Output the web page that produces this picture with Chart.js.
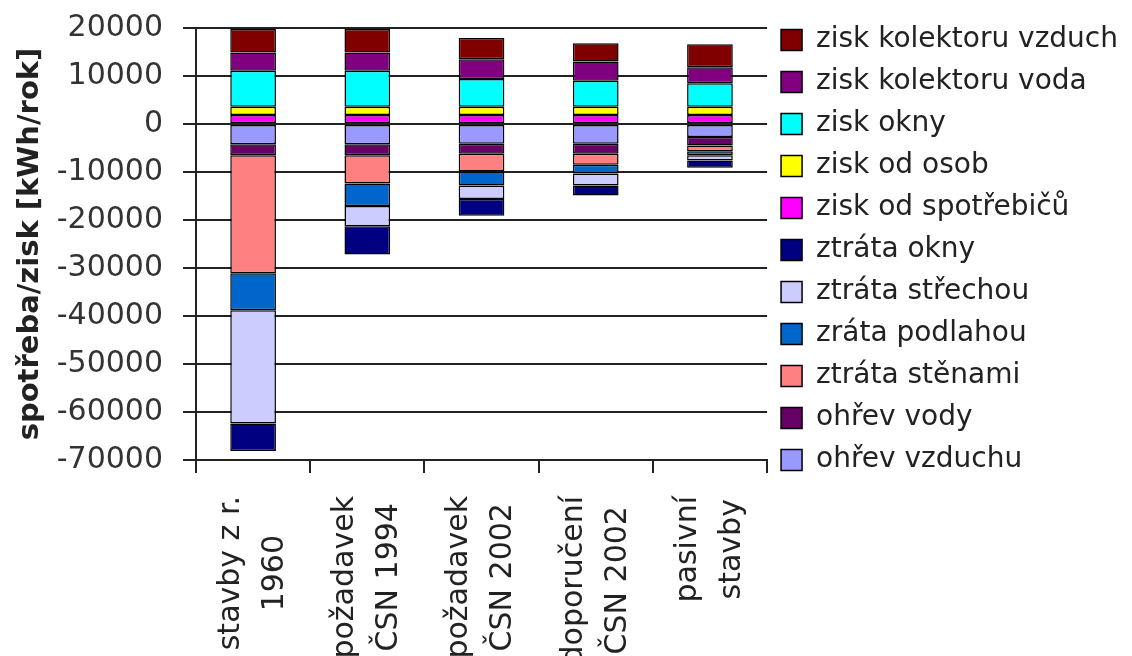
<!DOCTYPE html>
<html lang="cs">
<head>
  <meta charset="UTF-8">
  <title>Spotřeba a zisk energie</title>
  <script src="https://cdn.jsdelivr.net/npm/chart.js"></script>
  <style>
    html, body { margin: 0; padding: 0; background: #fff; }
    #wrap { width: 1132px; height: 656px; }
  </style>
</head>
<body>
<div id="wrap"><canvas id="bilance" width="1132" height="656"></canvas></div>
<script>
  // kategorie (dva řádky popisku)
  const kategorie = [
    ["stavby z r.", "1960"],
    ["požadavek", "ČSN 1994"],
    ["požadavek", "ČSN 2002"],
    ["doporučení", "ČSN 2002"],
    ["pasivní", "stavby"]
  ];

  // řady v pořadí Excelu (legenda je obrácená)
  const ohrevVzduchu     = [-4200, -4200, -4100, -4100, -2700];
  const ohrevVody        = [-2300, -2300, -2100, -2100, -1800];
  const ztrataStenami    = [-24600, -5900, -3700, -2300, -1200];
  const ztrataPodlahou   = [-7700, -4700, -2900, -1800, -800];
  const ztrataStrechou   = [-23600, -4200, -2800, -2500, -1100];
  const ztrataOkny       = [-5700, -5900, -3500, -2100, -1500];
  const ziskSpotrebice   = [1900, 1900, 1900, 1900, 1900];
  const ziskOsoby        = [1700, 1700, 1700, 1700, 1700];
  const ziskOkny         = [7500, 7500, 5800, 5400, 4900];
  const ziskKolektorVoda = [3800, 3800, 4100, 4000, 3300];
  const ziskKolektorVzd  = [4900, 4900, 4400, 3800, 4800];

  const yMin = -70000, yMax = 20000, yKrok = 10000;

  Chart.defaults.font.family = "'DejaVu Sans', sans-serif";

  const rada = (label, data, color) => ({
    label, data,
    backgroundColor: color,
    borderColor: "#000",
    borderWidth: 1.5,
    borderSkipped: false,
    categoryPercentage: 1,
    barPercentage: 0.4
  });

  // popisky osy x: otočené, řádky vystředěné mezi sebou
  const xPopisky = {
    id: "xPopisky",
    afterDraw(chart) {
      const { ctx, scales: { x } } = chart;
      const lh = 44;
      ctx.save();
      ctx.font = "30px 'DejaVu Sans'";
      ctx.fillStyle = "#222";
      ctx.textAlign = "center";
      ctx.textBaseline = "middle";
      kategorie.forEach((lines, i) => {
        const px = x.getPixelForTick(i);
        const w = Math.max(...lines.map(l => ctx.measureText(l).width));
        ctx.save();
        ctx.translate(px, x.top + 36 + w / 2);
        ctx.rotate(-Math.PI / 2);
        lines.forEach((l, j) => ctx.fillText(l, 0, (j - (lines.length - 1) / 2) * lh));
        ctx.restore();
      });
      ctx.restore();
    }
  };

  new Chart(document.getElementById("bilance"), {
    type: "bar",
    data: {
      labels: kategorie,
      datasets: [
        rada("ohřev vzduchu", ohrevVzduchu, "#9999FF"),
        rada("ohřev vody", ohrevVody, "#660066"),
        rada("ztráta stěnami", ztrataStenami, "#FF8080"),
        rada("zráta podlahou", ztrataPodlahou, "#0066CC"),
        rada("ztráta střechou", ztrataStrechou, "#CCCCFF"),
        rada("ztráta okny", ztrataOkny, "#000080"),
        rada("zisk od spotřebičů", ziskSpotrebice, "#FF00FF"),
        rada("zisk od osob", ziskOsoby, "#FFFF00"),
        rada("zisk okny", ziskOkny, "#00FFFF"),
        rada("zisk kolektoru voda", ziskKolektorVoda, "#800080"),
        rada("zisk kolektoru vzduch", ziskKolektorVzd, "#800000")
      ]
    },
    options: {
      responsive: false,
      animation: false,
      layout: { padding: { top: 12, right: 4, left: 0, bottom: 0 } },
      plugins: {
        tooltip: { enabled: false },
        legend: {
          position: "right",
          align: "start",
          reverse: true,
          maxWidth: 400,
          labels: { boxWidth: 21, boxHeight: 21, padding: 14, color: "#222", font: { size: 28 } }
        }
      },
      scales: {
        x: {
          stacked: true,
          grid: { drawOnChartArea: false, drawTicks: true, tickLength: 13, color: "#222", lineWidth: 2 },
          border: { color: "#222", width: 2 },
          ticks: { display: false },
          afterFit: s => { s.height = 196; }
        },
        y: {
          stacked: true,
          min: yMin,
          max: yMax,
          ticks: {
            stepSize: yKrok,
            color: "#333",
            padding: 20,
            font: { size: 30 },
            callback: v => String(v)
          },
          grid: { color: "#222", lineWidth: 2, tickLength: 13 },
          border: { color: "#222", width: 2 },
          title: {
            display: true,
            text: "spotřeba/zisk [kWh/rok]",
            color: "#222",
            font: { size: 29, weight: "bold" },
            padding: { top: 13, bottom: 0 }
          },
          afterFit: s => { s.width = 196; s.paddingTop = 28; }
        }
      }
    },
    plugins: [xPopisky]
  });
</script>
</body>
</html>
